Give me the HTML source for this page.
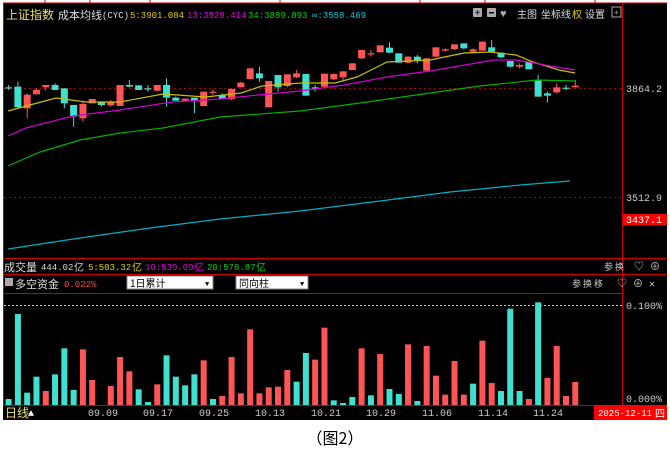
<!DOCTYPE html>
<html><head><meta charset="utf-8"><style>
body{margin:0;background:#fff;width:670px;height:463px;overflow:hidden;font-family:"Liberation Mono","Noto Sans CJK SC",monospace}
svg{position:absolute;left:0;top:0}
text{font-family:"Liberation Mono","Noto Sans CJK SC",monospace}
text.k{font-family:"Noto Sans CJK SC",sans-serif}
</style></head><body>
<svg id="s" width="670" height="463" font-size="9" xmlns="http://www.w3.org/2000/svg">
<rect x="3" y="3" width="664" height="417" fill="#000"/>
<g stroke="#c00" stroke-width="1" fill="none">
<line x1="3" y1="3" x2="667" y2="3"/>
<line x1="3.5" y1="3" x2="3.5" y2="405"/>
<line x1="622.5" y1="3" x2="622.5" y2="420"/>
<line x1="3" y1="258.5" x2="667" y2="258.5"/>
<line x1="3" y1="274.5" x2="667" y2="274.5"/>
<line x1="3" y1="293.5" x2="622" y2="293.5"/>
<line x1="3" y1="405.5" x2="622" y2="405.5"/>
</g>
<g stroke="#c00" stroke-width="1"><line x1="45" y1="0" x2="45" y2="3"/><line x1="90" y1="0" x2="90" y2="3"/><line x1="150" y1="0" x2="150" y2="3"/><line x1="280" y1="0" x2="280" y2="3"/><line x1="420" y1="0" x2="420" y2="3"/><line x1="485" y1="0" x2="485" y2="3"/><line x1="595" y1="0" x2="595" y2="3"/></g>
<line x1="4" y1="88.5" x2="622" y2="88.5" stroke="#a00" stroke-dasharray="2,3"/>
<line x1="4" y1="197.5" x2="622" y2="197.5" stroke="#a00" stroke-dasharray="2,3"/>
<line x1="4" y1="305.5" x2="622" y2="305.5" stroke="#ccc" stroke-dasharray="2,2"/>
<text class="k" x="6" y="19" fill="#e8e070" font-size="12">上证指数</text>
<text class="k" x="58" y="19" fill="#ddd" font-size="11">成本均线</text>
<text x="102" y="18" fill="#ddd" font-size="9">(CYC)</text>
<text x="130" y="18" fill="#e0d000" font-size="9">5:3901.084</text>
<text x="187" y="18" fill="#e000e0" font-size="9">13:3928.414</text>
<text x="248" y="18" fill="#00d000" font-size="9">34:3889.893</text>
<text x="312" y="18" fill="#00c8d8" font-size="9">∞:3558.469</text>
<rect x="473" y="8" width="9" height="9" rx="1" fill="#aaa"/><text x="474.5" y="16" fill="#000" font-size="10">+</text>
<rect x="487" y="8" width="9" height="9" rx="1" fill="#aaa"/><rect x="489" y="12" width="5" height="1.5" fill="#000"/>
<text x="500" y="17" fill="#aaa" font-size="11">♥</text>
<text class="k" x="517" y="18" fill="#ddd" font-size="10">主图</text>
<text class="k" x="541" y="18" fill="#ddd" font-size="10">坐标线</text>
<text class="k" x="572" y="18" fill="#d8d000" font-size="10">权</text>
<text class="k" x="585" y="18" fill="#ddd" font-size="10">设置</text>
<rect x="612" y="7" width="9" height="10" fill="none" stroke="#aaa"/><text x="614" y="15" fill="#aaa" font-size="8">+</text>
<text x="626" y="92" fill="#ccc" font-size="10">3864.2</text>
<text x="626" y="201" fill="#ccc" font-size="10">3512.9</text>
<rect x="623" y="214" width="44" height="11" fill="#f00"/>
<text x="626" y="223" fill="#fff" font-size="10">3437.1</text>
<text class="k" x="4" y="271" fill="#ddd" font-size="11">成交量</text>
<text x="41" y="270" fill="#ddd">444.02</text><text class="k" x="74" y="271" fill="#ddd" font-size="10">亿</text>
<text x="88" y="270" fill="#e0d000">5:503.32</text><text class="k" x="132" y="271" fill="#e0d000" font-size="10">亿</text>
<text x="145" y="270" fill="#e000e0">10:539.09</text><text class="k" x="194" y="271" fill="#e000e0" font-size="10">亿</text>
<text x="207" y="270" fill="#00d000">20:578.87</text><text class="k" x="256" y="271" fill="#00d000" font-size="10">亿</text>
<text class="k" x="604" y="270" fill="#ccc" font-size="9">参 换</text><text x="634" y="270" fill="#ccc" font-size="10">♡ ⊕</text>
<rect x="5" y="278" width="8" height="8" fill="#aaa"/>
<text class="k" x="15" y="288" fill="#ddd" font-size="11">多空资金</text>
<text x="64" y="287" fill="#f44">0.022%</text>
<rect x="127" y="276" width="86" height="13" fill="#fff" stroke="#888"/>
<text class="k" x="130" y="287" fill="#000" font-size="10">1日累计</text><text x="205" y="286" fill="#000" font-size="7">▼</text>
<rect x="236" y="276" width="72" height="13" fill="#fff" stroke="#888"/>
<text class="k" x="239" y="287" fill="#000" font-size="10">同向柱</text><text x="300" y="286" fill="#000" font-size="7">▼</text>
<text class="k" x="572" y="287" fill="#ccc" font-size="9">参 换 移</text><text x="617" y="287" fill="#ccc" font-size="10">♡ ⊕ ✕</text>
<text x="626" y="309" fill="#ccc" font-size="10">0.100%</text>
<text x="626" y="402" fill="#ccc" font-size="10">0.000%</text>
<text class="k" x="5" y="417" fill="#e8e070" font-size="12">日线</text><text x="28" y="416" fill="#fff" font-size="10">▲</text>
<g fill="#ccc" font-size="10"><text x="88" y="416">09.09</text><text x="143" y="416">09.17</text><text x="199" y="416">09.25</text><text x="255" y="416">10.13</text><text x="311" y="416">10.21</text><text x="366" y="416">10.29</text><text x="422" y="416">11.06</text><text x="478" y="416">11.14</text><text x="533" y="416">11.24</text></g>
<rect x="594" y="405" width="73" height="15" fill="#f00"/>
<text x="598" y="416" fill="#fff" font-size="9">2025-12-11</text><text class="k" x="655" y="417" fill="#fff" font-size="10">四</text>
<text class="k" x="335" y="444" fill="#000" font-size="16" text-anchor="middle">（图2）</text>
<g id="g"></g>
</svg>
<script>
var g=document.getElementById('g'),h='';
function X(i){return 8.6+9.29*i}
var R='#ff5555',C='#40e0d0';
var c=[[262,262,'c',255,270],[260,322,'c',245,322],[284,325,'r',280,355],[270,283,'r',265,283],[255,262,'r',255,272],[255,270,'c',250,270],[265,310,'c',265,325],[315,350,'c',315,380],[312,355,'r',305,365],[297,310,'r',297,310],[305,315,'c',305,320],[306,316,'r',300,320],[255,318,'r',255,318],[255,260,'c',240,262],[256,270,'c',256,270],[265,265,'c',255,275],[255,272,'r',255,275],[255,293,'c',235,320],[293,302,'c',290,302],[296,302,'r',296,305],[293,302,'c',293,340],[275,318,'r',275,318],[275,277,'r',268,285],[285,296,'c',280,296],[267,297,'r',265,300],[248,262,'r',245,262],[205,237,'r',205,237],[220,235,'c',200,245],[243,322,'r',243,322],[225,262,'c',225,275],[223,258,'r',223,262],[220,232,'r',210,235],[222,287,'c',222,287],[262,264,'c',255,275],[221,260,'r',221,262],[222,238,'r',220,240],[214,232,'r',214,245],[190,210,'r',190,210],[150,175,'r',150,178],[160,161,'r',150,170],[136,157,'r',136,157],[143,158,'c',127,160],[160,188,'c',160,188],[170,188,'r',168,190],[170,182,'c',165,190],[175,212,'r',175,212],[142,170,'r',142,170],[148,152,'r',145,155],[133,147,'r',133,150],[130,145,'c',130,148],[148,155,'r',145,160],[125,152,'r',125,152],[142,155,'c',120,158],[158,172,'c',158,175],[183,200,'c',183,203],[195,200,'r',190,205],[185,208,'c',185,208],[240,290,'c',225,290],[280,287,'c',275,308],[262,277,'r',250,280],[263,264,'c',255,270],[257,262,'r',240,262]];
c.forEach(function(k,i){var x=X(i),col=k[2]=='r'?R:C,t=k[0]/3,b=k[1]/3;
h+='<line x1="'+x+'" x2="'+x+'" y1="'+k[3]/3+'" y2="'+k[4]/3+'" stroke="'+col+'"/>';
h+='<rect x="'+(x-3.5)+'" y="'+t+'" width="7" height="'+Math.max(1.2,b-t)+'" fill="'+col+'"/>';});
function L(p,col){h+='<polyline fill="none" stroke="'+col+'" stroke-width="1.2" points="'+p+'"/>'}
L('8,111 30,105 56,98 86,102 120,102 163,94 206,97 241,93 262,86 301,83 335,83 357,77 387,62 430,60 464,53 490,52 516,55 533,62 559,70 575,73','#c8c000');
L('8,136 26,128 73,116 120,110 172,102 220,99 258,95 300,91 344,85 387,77 430,71 494,60 515,60 529,62 550,66 575,70','#d000d0');
L('8,166 40,152 80,140 120,133 163,128 220,117 300,111 360,103 430,93 480,86 537,80 575,81','#00b000');
L('8,249 80,238 150,228 220,219 300,211 380,201 450,192 520,185 570,181','#00b0c0');
var v=[[327,'c'],[72,'c'],[308,'c'],[260,'c'],[303,'r'],[253,'c'],[175,'c'],[300,'c'],[178,'r'],[270,'r'],[343,'r'],[288,'r'],[201,'r'],[244,'r'],[298,'c'],[336,'c'],[283,'r'],[196,'c'],[260,'c'],[286,'c'],[253,'c'],[211,'r'],[327,'c'],[318,'r'],[201,'r'],[310,'r'],[118,'r'],[310,'r'],[292,'r'],[290,'r'],[240,'r'],[275,'c'],[189,'c'],[209,'r'],[113,'r'],[331,'c'],[339,'c'],[321,'c'],[175,'r'],[316,'c'],[192,'r'],[297,'c'],[312,'c'],[163,'r'],[333,'c'],[168,'r'],[257,'r'],[314,'r'],[213,'r'],[314,'r'],[281,'c'],[152,'r'],[279,'r'],[303,'c'],[56,'c'],[303,'c'],[327,'r'],[37,'c'],[264,'r'],[168,'r'],[318,'r'],[276,'r']];
v.forEach(function(k,i){if(k[0]>=343)return;var x=X(i),t=290+k[0]/3;h+='<rect x="'+(x-3)+'" y="'+t+'" width="6" height="'+(405-t)+'" fill="'+(k[1]=='r'?R:C)+'"/>';});
g.innerHTML=h;
</script>
</body></html>
